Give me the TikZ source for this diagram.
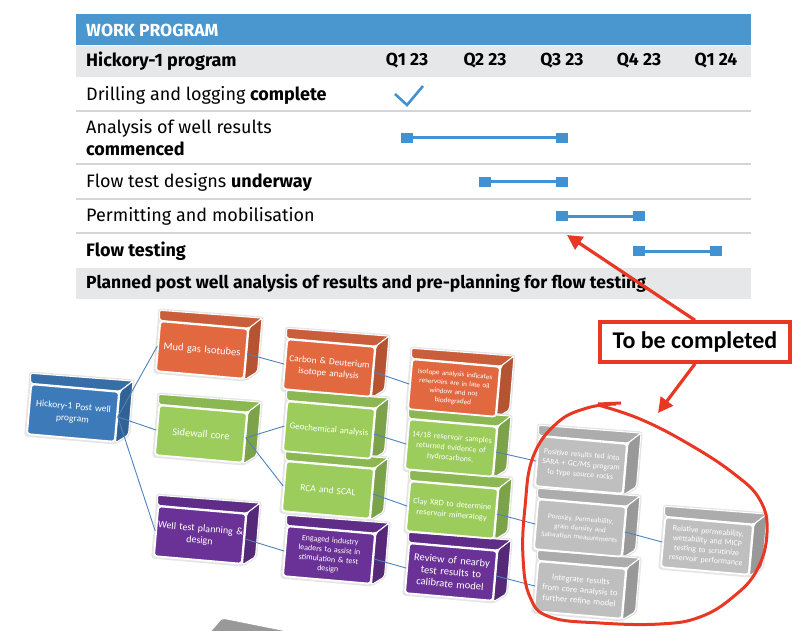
\documentclass[tikz,border=0pt]{standalone}
\usepackage{fontspec}
\setmainfont{Fira Sans}
\newfontfamily\carlito{Carlito}
\usetikzlibrary{calc,arrows.meta}
\pgfdeclarelayer{back}
\pgfsetlayers{back,main}

\definecolor{hdrblue}{RGB}{74,151,207}
\definecolor{rowgray}{RGB}{230,231,232}
\definecolor{sepgray}{RGB}{212,213,214}
\definecolor{barblue}{RGB}{66,145,208}
\definecolor{rootblue}{RGB}{61,122,186}
\definecolor{mudorange}{RGB}{226,104,64}
\definecolor{coregreen}{RGB}{155,204,92}
\definecolor{testpurple}{RGB}{106,50,150}
\definecolor{todogray}{RGB}{191,191,191}
\definecolor{markred}{RGB}{232,56,36}
\definecolor{linkblue}{RGB}{79,129,189}

% block with its top and right faces
\newcommand{\wellblock}[5]{%
  \node[block=#3, font={\carlito#4\selectfont}] (#1) at (#2) {#5};
  \begin{pgfonlayer}{back}
    \draw[halo] (#1.north west) -- ($(#1.north west)+(0,-10)$) -- ($(#1.north east)+(13,-10)$)
      -- ($(#1.south east)+(13,-8)$) -- (#1.south east) -- (#1.south west) -- cycle;
    \draw[face, fill=#3!90!black] (#1.north west) -- ++(0,-10) -- ($(#1.north east)+(13,-10)$) -- (#1.north east) -- cycle;
    \draw[face, fill=#3!80!black] (#1.north east) -- ++(13,-10) -- ($(#1.south east)+(13,-8)$) -- (#1.south east) -- cycle;
  \end{pgfonlayer}
}

\begin{document}
\begin{tikzpicture}[x=1pt, y=-1pt,
    rowlabel/.style={anchor=west, inner sep=0pt, font=\fontsize{18}{22}\selectfont, align=left},
    qlabel/.style={inner sep=0pt, font=\bfseries\fontsize{17.5}{17.5}\selectfont},
    bar/.style={barblue, line width=3pt},
    block/.style={rectangle, rounded corners=3pt, fill=#1, draw=white, line width=1.8pt,
      text=white, align=center, text width=86pt, minimum width=88pt, minimum height=50pt,
      inner sep=1pt, rotate=-5},
    face/.style={draw=white, line width=1pt, rounded corners=2pt},
    halo/.style={draw=black!10, line width=3.5pt, rounded corners=2pt},
    link/.style={draw=linkblue, line width=0.9pt},
    markarrow/.style={markred, line width=3.2pt, -{Triangle[length=15pt,width=15pt]}},
    tbcbox/.style={draw=markred, line width=3.5pt, fill=white, minimum width=190pt,
      minimum height=40pt, font=\carlito\bfseries\fontsize{24}{24}\selectfont}]
    \useasboundingbox (0,0) rectangle (800,631);

    % work program table
    \fill[hdrblue] (76,14) rectangle (751,45);
    \node[anchor=west, text=white, inner sep=0pt, font=\bfseries\fontsize{17.5}{17.5}\selectfont] (title) at (86,30) {WORK PROGRAM};
    \fill[rowgray] (76,46) rectangle (751,77);
    \fill[rowgray] (76,268) rectangle (751,299);
    \foreach \y in {111,164,199,233}
        \draw[sepgray, line width=1.2pt] (76,\y) -- (751,\y);

    \node[rowlabel, font=\bfseries\fontsize{18}{18}\selectfont] (prog) at (86,61) {Hickory-1 program};
    \foreach \q/\x/\n in {Q1 23/407/q1, Q2 23/485/q2, Q3 23/562/q3, Q4 23/639/q4, Q1 24/716/q5}
        \node[qlabel] (\n) at (\x,61) {\q};

    \node[rowlabel] (drill) at (86,95) {Drilling and logging \textbf{complete}};
    \node[rowlabel] (analysis) at (86,138) {Analysis of well results\\\textbf{commenced}};
    \node[rowlabel] (design) at (86,182) {Flow test designs \textbf{underway}};
    \node[rowlabel] (permit) at (86,216) {Permitting and mobilisation};
    \node[rowlabel] (flow) at (86,251) {\textbf{Flow testing}};
    \node[rowlabel, font=\bfseries\fontsize{17.5}{17.5}\selectfont] (planned) at (86,283) {Planned post well analysis of results and pre-planning for flow testing};

    \draw[barblue, line width=2.6pt] (395,94) -- (407,105) -- (423,86);
    \foreach \a/\b/\y in {q1/q3/138, q2/q3/182, q3/q4/216, q4/q5/251}
    {
        \draw[bar] (\a |- 0,\y) -- (\b |- 0,\y);
        \fill[barblue] ($(\a |- 0,\y)+(-6,-5)$) rectangle +(12,10);
        \fill[barblue] ($(\b |- 0,\y)+(-6,-5)$) rectangle +(12,10);
    }

    % post well program blocks
    \wellblock{root}{73,413}{rootblue}{\fontsize{9.5}{12}}{Hickory-1 Post well\\program}
    \wellblock{mud}{202,350}{mudorange}{\fontsize{10.5}{12}}{Mud gas Isotubes}
    \wellblock{side}{201,434}{coregreen}{\fontsize{10.5}{12}}{Sidewall core}
    \wellblock{welltest}{200,535}{testpurple}{\fontsize{10}{12}}{Well test planning \&\\design}
    \wellblock{carbon}{329,368}{mudorange}{\fontsize{9.3}{11.5}}{Carbon \& Deuterium\\isotope analysis}
    \wellblock{geochem}{329,430}{coregreen}{\fontsize{9}{11}}{Geochemical analysis}
    \wellblock{rca}{328,490}{coregreen}{\fontsize{9.5}{11}}{RCA and SCAL}
    \wellblock{engaged}{329,555}{testpurple}{\fontsize{8}{9.6}}{Engaged industry\\leaders to assist in\\stimulation \& test\\design}
    \wellblock{isotope}{454,388}{mudorange}{\fontsize{7.1}{9}}{Isotope analysis indicates\\reservoirs are in late oil\\window and not\\biodegraded}
    \wellblock{samples}{451,448}{coregreen}{\fontsize{8}{10.2}}{14/18 reservoir samples\\returned evidence of\\hydrocarbons.}
    \wellblock{clay}{452,510}{coregreen}{\fontsize{8.3}{10.5}}{Clay XRD to determine\\reservoir mineralogy}
    \wellblock{review}{451,572}{testpurple}{\fontsize{10.5}{12}}{Review of nearby\\test results to\\calibrate model}
    \wellblock{positive}{581,465}{todogray}{\fontsize{7.8}{9.8}}{Positive results fed into\\SARA + GC/MS program\\to type source rocks}
    \wellblock{porosity}{580,528}{todogray}{\fontsize{7.2}{9}}{Porosity, Permeability,\\grain density and\\Saturation measurements}
    \wellblock{integrate}{580,590}{todogray}{\fontsize{8.6}{10.5}}{Integrate results\\from core analysis to\\further refine model}
    \wellblock{relative}{707,546}{todogray}{\fontsize{8}{9.6}}{Relative permeability,\\wettability and MICP\\testing to scrutinize\\reservoir performance}
    \draw[face, fill=todogray!80!black] (210,632) -- (222,618) -- (292,632) -- cycle;

    \foreach \a/\b in {root/mud, root/side, root/welltest, mud/carbon, side/geochem, side/rca,
        welltest/engaged, carbon/isotope, geochem/samples, rca/clay, engaged/review,
        samples/positive, clay/porosity, review/integrate, porosity/relative}
        \draw[link] (\a.east) -- (\b.west);

    % to be completed marking
    \node[tbcbox] (tbc) at (695,342) {To be completed};
    \coordinate (tip1) at (567,235);
    \coordinate (tip2) at (658,413);
    \draw[markarrow] (tbc.north) -- (tip1);
    \draw[markarrow] (tbc.south) -- (tip2);
    \draw[markred, line width=3pt] plot[smooth, tension=0.7] coordinates {(598,405) (640,419) (687,443)
        (733,473) (760,500) (767,533) (757,570) (733,597) (700,617) (660,624) (600,623) (550,617)
        (530,597) (523,557) (525,507) (533,457) (557,423) (587,408) (616,404)};
    \draw[markred, line width=3pt] (598,404) -- (621,403);
\end{tikzpicture}
\end{document}
